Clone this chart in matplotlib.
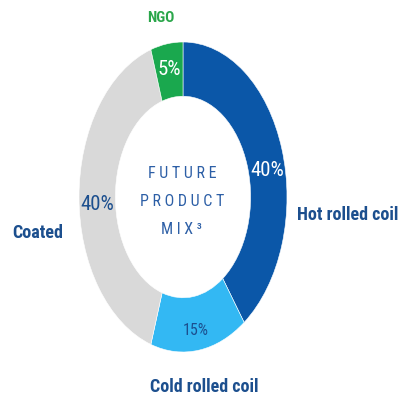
import matplotlib
matplotlib.use('Agg')
import matplotlib.pyplot as plt
from matplotlib import font_manager

# Product mix shares (percent), drawn clockwise from 12 o'clock
segments = ['Hot rolled coil', 'Cold rolled coil', 'Coated', 'NGO']
shares = [40, 15, 40, 5]
colors = ['#0b57a8', '#33b8f3', '#d9d9d9', '#1aa84e']
center_lines = ['F U T U R E', 'P R O D U C T', 'M I X \u00b3']

installed = {f.name for f in font_manager.fontManager.ttflist}
narrow = 'Roboto Condensed' if 'Roboto Condensed' in installed else 'Roboto'
plt.rcParams['font.family'] = [narrow, 'DejaVu Sans']

navy = '#1c4f8e'
mid_blue = '#2d5fa6'

fig = plt.figure(figsize=(4.02, 4.0), dpi=100)
fig.patch.set_facecolor('white')

# axes box spans the ring's bounding box so the donut is drawn as an ellipse
W, H = 402.0, 400.0
ax = fig.add_axes([79 / W, 1 - 352 / H, 208 / W, 310 / H])

wedges, texts, pcts = ax.pie(
    shares, colors=colors, startangle=90, counterclock=False,
    radius=1.0, wedgeprops=dict(width=0.35, edgecolor='white', linewidth=0.4),
    autopct='%.0f%%', pctdistance=0.825,
)
ax.set_aspect('auto')
ax.set_xlim(-1, 1)
ax.set_ylim(-1, 1)
ax.axis('off')

pct_style = {
    'Hot rolled coil': dict(color='white', size=15, pos=(0.81, 0.17)),
    'Cold rolled coil': dict(color=navy, size=11.5, pos=(0.12, -0.86)),
    'Coated': dict(color=navy, size=15, pos=(-0.82, -0.05)),
    'NGO': dict(color='white', size=15, pos=(-0.13, 0.82)),
}
for name, t in zip(segments, pcts):
    st = pct_style[name]
    t.set_color(st['color'])
    t.set_fontsize(st['size'])
    t.set_position(st['pos'])
    t.set_ha('center')
    t.set_va('center')

# category labels outside the ring
def px(x, y):
    return x / W, 1 - y / H

fig.text(*px(348, 215), 'Hot rolled coil', color=navy, fontsize=13,
         fontweight='bold', ha='center', va='center')
fig.text(*px(204, 387), 'Cold rolled coil', color=navy, fontsize=13,
         fontweight='bold', ha='center', va='center')
fig.text(*px(38, 233), 'Coated', color=navy, fontsize=13,
         fontweight='bold', ha='center', va='center')
fig.text(*px(161, 18), 'NGO', color='#2aa64a', fontsize=11,
         fontweight='bold', ha='center', va='center')

# title in the donut hole
for line, y in zip(center_lines, [173, 202, 229]):
    fig.text(*px(182, y), line, color=mid_blue, fontsize=11.5,
             ha='center', va='center')

fig.savefig('out.png', dpi=100, facecolor='white')
